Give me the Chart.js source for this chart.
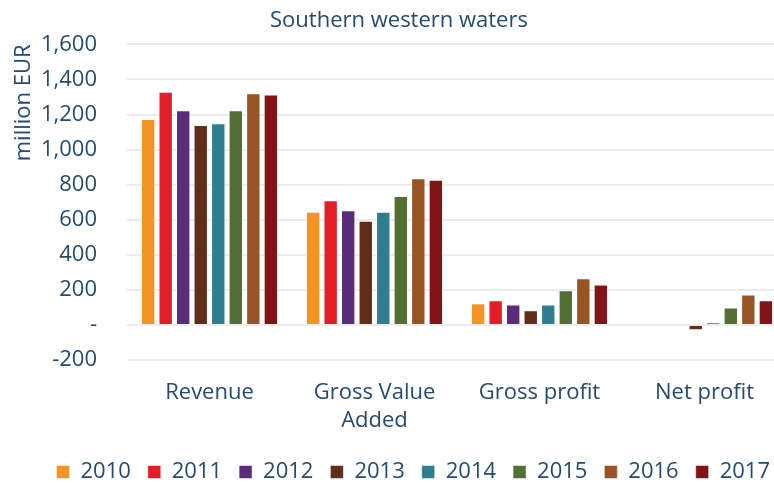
<html>
<head>
	<title>Southern western waters</title>
	<style>
		body { margin: 0; background: #fff; overflow: hidden; }
		/* the original picture is cropped on the right and bottom */
		#wrap { width: 790px; height: 493px; }
	</style>
</head>
<body>
	<div id="wrap"><canvas id="chart"></canvas></div>
	<script src="https://cdn.jsdelivr.net/npm/chart.js"></script>
	<script>
		const categories = ['Revenue', ['Gross Value', 'Added'], 'Gross profit', 'Net profit'];
		const years = ['2010', '2011', '2012', '2013', '2014', '2015', '2016', '2017'];
		const colors = ['#F39425', '#E31E26', '#5A2D7A', '#612D1A', '#2E7D91', '#546F33', '#975425', '#821418'];

		// values per year: Revenue, GVA, Gross profit, Net profit
		const v2010 = [1175, 645, 124, null];
		const v2011 = [1330, 711, 141, null];
		const v2012 = [1225, 654, 116, null];
		const v2013 = [1140, 594, 84, -30];
		const v2014 = [1150, 645, 116, 14];
		const v2015 = [1225, 736, 198, 99];
		const v2016 = [1322, 837, 266, 174];
		const v2017 = [1314, 828, 231, 141];
		const series = [v2010, v2011, v2012, v2013, v2014, v2015, v2016, v2017];

		const textColor = '#264a72';
		const font = "'Open Sans', sans-serif";

		new Chart(document.getElementById('chart'), {
			type: 'bar',
			data: {
				labels: categories,
				datasets: years.map((y, i) => ({
					label: y,
					data: series[i],
					backgroundColor: colors[i],
					borderColor: 'rgba(255,255,255,0.5)',
					borderWidth: 1,
					categoryPercentage: 0.85,
					barPercentage: 0.82
				}))
			},
			options: {
				responsive: true,
				maintainAspectRatio: false,
				animation: false,
				layout: { padding: { left: 11, right: 3, top: 0, bottom: 0 } },
				plugins: {
					title: {
						display: true,
						text: 'Southern western waters',
						color: textColor,
						font: { family: font, size: 22, weight: 'normal' },
						padding: { top: 8, bottom: 10 }
					},
					legend: {
						position: 'bottom',
						align: 'end',
						labels: {
							color: textColor,
							font: { family: font, size: 22 },
							boxWidth: 13,
							boxHeight: 13,
							padding: 17
						}
					},
					tooltip: { enabled: false }
				},
				scales: {
					x: {
						grid: { display: false },
						border: { display: false },
						ticks: { color: textColor, font: { family: font, size: 22, lineHeight: 1.25 }, padding: 11 },
						afterFit: s => { s.height = 84; }
					},
					y: {
						min: -200,
						max: 1600,
						ticks: {
							stepSize: 200,
							color: textColor,
							font: { family: font, size: 22 },
							padding: 30,
							callback: v => v === 0 ? '-' : v.toLocaleString('en-US')
						},
						grid: { color: '#ececec', lineWidth: 2, drawTicks: false },
						border: { display: false },
						title: {
							display: true,
							text: 'million EUR',
							align: 'end',
							color: textColor,
							font: { family: font, size: 22 },
							padding: { top: 0, bottom: 8 }
						},
						afterFit: s => { s.width = 116; }
					}
				}
			}
		});
	</script>
</body>
</html>
